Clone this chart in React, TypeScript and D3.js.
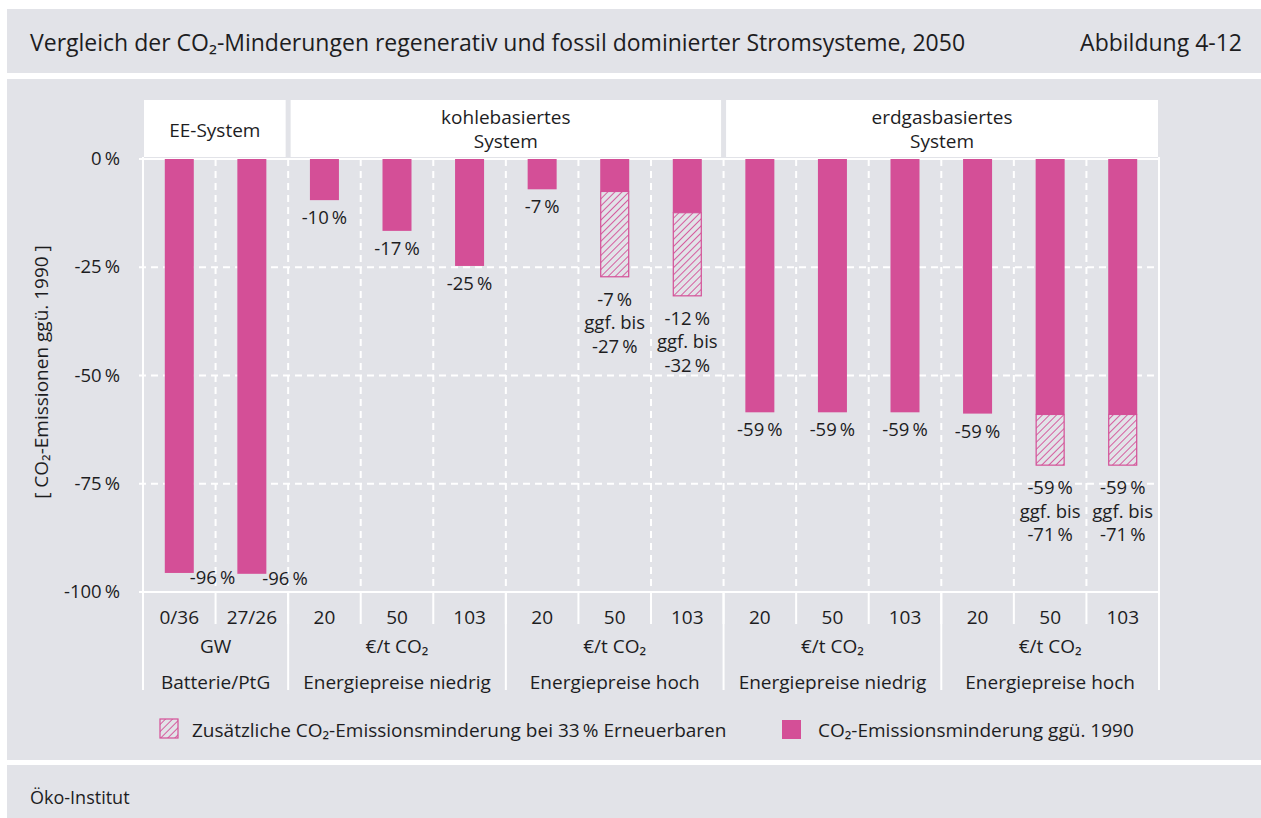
import React from "react";
import * as d3 from "d3";

const columns = ["0/36", "27/26", "20", "50", "103", "20", "50", "103", "20", "50", "103", "20", "50", "103"];
const baseValues = [-95.6, -95.8, -9.5, -16.6, -24.7, -7, -7.5, -12.4, -58.5, -58.5, -58.5, -58.8, -59, -59];
const extraValues = [null, null, null, null, null, null, -27.2, -31.6, null, null, null, null, -70.7, -70.7];
const valueLabels = [
  ["-96\u2009%"], ["-96\u2009%"], ["-10\u2009%"], ["-17\u2009%"], ["-25\u2009%"], ["-7\u2009%"],
  ["-7\u2009%", "ggf. bis", "-27\u2009%"], ["-12\u2009%", "ggf. bis", "-32\u2009%"],
  ["-59\u2009%"], ["-59\u2009%"], ["-59\u2009%"], ["-59\u2009%"],
  ["-59\u2009%", "ggf. bis", "-71\u2009%"], ["-59\u2009%", "ggf. bis", "-71\u2009%"],
];
const yTicks = [0, -25, -50, -75, -100];
const headerGroups = [
  { lines: ["EE-System"], from: 0, to: 2 },
  { lines: ["kohlebasiertes", "System"], from: 2, to: 8 },
  { lines: ["erdgasbasiertes", "System"], from: 8, to: 14 },
];
const unitGroups = [
  { label: "GW", from: 0, to: 2 },
  { label: "€/t CO₂", from: 2, to: 5 },
  { label: "€/t CO₂", from: 5, to: 8 },
  { label: "€/t CO₂", from: 8, to: 11 },
  { label: "€/t CO₂", from: 11, to: 14 },
];
const categoryGroups = [
  { label: "Batterie/PtG", from: 0, to: 2 },
  { label: "Energiepreise niedrig", from: 2, to: 5 },
  { label: "Energiepreise hoch", from: 5, to: 8 },
  { label: "Energiepreise niedrig", from: 8, to: 11 },
  { label: "Energiepreise hoch", from: 11, to: 14 },
];
const title = "Vergleich der CO₂-Minderungen regenerativ und fossil dominierter Stromsysteme, 2050";
const figLabel = "Abbildung 4-12";
const yAxisTitle = "[ CO₂-Emissionen ggü. 1990 ]";
const legendHatch = "Zusätzliche CO₂-Emissionsminderung bei 33\u2009% Erneuerbaren";
const legendSolid = "CO₂-Emissionsminderung ggü. 1990";
const source = "Öko-Institut";

const PINK = "#d44f97";
const BG = "#e2e3e8";
const TXT = "#1d1d1f";
const FONT = "'Open Sans', 'Noto Sans', sans-serif";

export default function App() {
  const W = 1261, H = 818;
  const left = 143, right = 1159, top = 159, bottom = 592;
  const x = d3.scaleBand<number>().domain(d3.range(columns.length)).range([left, right]).padding(0);
  const y = d3.scaleLinear().domain([0, -100]).range([top, bottom]);
  const bw = 29;
  const step = x.step();
  const colX = (i: number) => left + i * step;
  const cx = (i: number) => (x(i) as number) + step / 2;

  const dashedCols = d3.range(1, columns.length);
  const groupBounds = [0, 2, 5, 8, 11, 14];

  return (
    <svg width={W} height={H} style={{ position: "absolute", left: 0, top: 0, fontFamily: FONT }}>
      <defs>
        <pattern id="hatch" patternUnits="userSpaceOnUse" width="5" height="5" patternTransform="rotate(45)">
          <rect width="5" height="5" fill={BG} />
          <line x1="0" y1="0" x2="0" y2="5" stroke={PINK} strokeWidth="1.8" />
        </pattern>
      </defs>
      <rect x={0} y={0} width={W} height={H} fill="#fff" />
      {/* title panel */}
      <rect x={7} y={9} width={W - 7} height={64} fill={BG} />
      <text x={30} y={51} fontSize={23} fill={TXT}>{title}</text>
      <text x={1242} y={51} fontSize={23} fill={TXT} textAnchor="end">{figLabel}</text>
      {/* main panel */}
      <rect x={7} y={79} width={W - 7} height={681} fill={BG} />
      {/* footer */}
      <rect x={7} y={765} width={W - 7} height={H - 765} fill={BG} />
      <text x={30} y={804} fontSize={18} fill={TXT}>{source}</text>

      {/* header boxes */}
      {headerGroups.map((g, i) => {
        const x0 = colX(g.from) + (i === 0 ? 1 : 2.5);
        const x1 = colX(g.to) - (i === headerGroups.length - 1 ? 1 : 2.5);
        const mid = (x0 + x1) / 2;
        return (
          <g key={"h" + i}>
            <rect x={x0} y={100} width={x1 - x0} height={57} fill="#fff" />
            {g.lines.length === 1 ? (
              <text x={mid} y={137} fontSize={19} textAnchor="middle" fill={TXT}>{g.lines[0]}</text>
            ) : (
              g.lines.map((l, k) => (
                <text key={k} x={mid} y={124 + k * 24} fontSize={19} textAnchor="middle" fill={TXT}>{l}</text>
              ))
            )}
          </g>
        );
      })}

      {/* horizontal grid */}
      {yTicks.map((t) => (
        <g key={"yt" + t}>
          <line
            x1={139}
            x2={right}
            y1={y(t)}
            y2={y(t)}
            stroke="#fff"
            strokeWidth={2}
            strokeDasharray={t === 0 || t === -100 ? undefined : "7 5"}
          />
          <text x={120} y={y(t) + 6} fontSize={18.5} textAnchor="end" fill={TXT}>
            {t === 0 ? "0\u2009%" : `${t}\u2009%`}
          </text>
        </g>
      ))}
      {/* vertical grid */}
      {dashedCols.map((i) => (
        <line key={"vc" + i} x1={colX(i)} x2={colX(i)} y1={top} y2={bottom} stroke="#fff" strokeWidth={2} strokeDasharray="7 5" />
      ))}
      {dashedCols.map((i) => (
        <line key={"vt" + i} x1={colX(i)} x2={colX(i)} y1={bottom} y2={624} stroke="#fff" strokeWidth={2} />
      ))}
      {groupBounds.map((b) => (
        <line key={"gb" + b} x1={colX(b)} x2={colX(b)} y1={b === 0 || b === 14 ? top - 2 : bottom} y2={690} stroke="#fff" strokeWidth={2} />
      ))}

      {/* bars */}
      {columns.map((c, i) => {
        const bx = cx(i) - bw / 2;
        const base = baseValues[i];
        const extra = extraValues[i];
        return (
          <g key={"b" + i}>
            <rect x={bx} y={y(0)} width={bw} height={y(base) - y(0)} fill={PINK} />
            {extra !== null && (
              <rect x={bx + 0.5} y={y(base)} width={bw - 1} height={y(extra) - y(base)} fill="url(#hatch)" stroke={PINK} strokeWidth={1.2} />
            )}
          </g>
        );
      })}

      {/* value labels */}
      {columns.map((c, i) => {
        const end = y(extraValues[i] ?? baseValues[i]);
        const lines = valueLabels[i];
        if (i < 2) {
          return (
            <text key={"vl" + i} x={cx(i) + bw / 2 - 4} y={end + 11} fontSize={18.5} fill={TXT}>{lines[0]}</text>
          );
        }
        const first = lines.length > 1 ? end + 29 : end + 24;
        return (
          <g key={"vl" + i}>
            {lines.map((l, k) => (
              <text key={k} x={cx(i)} y={first + k * 23.5} fontSize={18.5} textAnchor="middle" fill={TXT}>{l}</text>
            ))}
          </g>
        );
      })}

      {/* x tick labels */}
      {columns.map((c, i) => (
        <text key={"xl" + i} x={cx(i)} y={624} fontSize={19} textAnchor="middle" fill={TXT}>{c}</text>
      ))}
      {unitGroups.map((g, i) => (
        <text key={"ug" + i} x={(colX(g.from) + colX(g.to)) / 2} y={653} fontSize={19} textAnchor="middle" fill={TXT}>{g.label}</text>
      ))}
      {categoryGroups.map((g, i) => (
        <text key={"cg" + i} x={(colX(g.from) + colX(g.to)) / 2} y={689} fontSize={19} textAnchor="middle" fill={TXT}>{g.label}</text>
      ))}

      {/* y axis title */}
      <text transform={`translate(48, 372) rotate(-90)`} fontSize={19} textAnchor="middle" fill={TXT}>{yAxisTitle}</text>

      {/* legend */}
      <rect x={160} y={719} width={18} height={19} fill="url(#hatch)" stroke={PINK} strokeWidth={1.2} />
      <text x={192} y={737} fontSize={19} fill={TXT}>{legendHatch}</text>
      <rect x={782} y={720} width={19} height={19} fill={PINK} />
      <text x={818} y={737} fontSize={19} fill={TXT}>{legendSolid}</text>
    </svg>
  );
}
